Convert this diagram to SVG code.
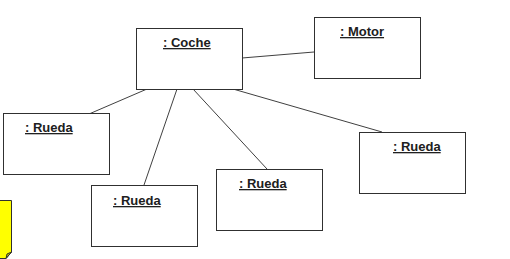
<svg xmlns="http://www.w3.org/2000/svg" width="510" height="259" viewBox="0 0 510 259">
  <style>
    .obj { fill: #ffffff; stroke: #303030; stroke-width: 1; }
    .lbl { font-family: "Liberation Sans", Arial, sans-serif; font-size: 13px; font-weight: bold; fill: #202020; text-decoration: underline; }
    .link { stroke: #404040; stroke-width: 1; fill: none; }
  </style>
  <rect width="510" height="259" fill="#ffffff"/>

  <!-- associations -->
  <g id="connectors">
    <line class="link" x1="242" y1="58" x2="314" y2="52"/>
    <line class="link" x1="147" y1="89" x2="89" y2="114"/>
    <line class="link" x1="177" y1="89" x2="144" y2="185"/>
    <line class="link" x1="193" y1="89" x2="267" y2="169"/>
    <line class="link" x1="233" y1="89" x2="382" y2="132"/>
  </g>

  <g id="coche">
    <rect class="obj" x="136.5" y="28.5" width="106" height="61"/>
    <text class="lbl" x="163" y="47">: Coche</text>
  </g>
  <g id="motor">
    <rect class="obj" x="314.5" y="17.5" width="106" height="61"/>
    <text class="lbl" x="340" y="36">: Motor</text>
  </g>
  <g id="rueda1">
    <rect class="obj" x="3.5" y="113.5" width="106" height="61"/>
    <text class="lbl" x="25" y="132">: Rueda</text>
  </g>
  <g id="rueda2">
    <rect class="obj" x="91.5" y="185.5" width="106" height="61"/>
    <text class="lbl" x="113" y="205">: Rueda</text>
  </g>
  <g id="rueda3">
    <rect class="obj" x="216.5" y="169.5" width="106" height="61"/>
    <text class="lbl" x="239" y="188">: Rueda</text>
  </g>
  <g id="rueda4">
    <rect class="obj" x="359.5" y="132.5" width="106" height="61"/>
    <text class="lbl" x="393" y="151">: Rueda</text>
  </g>

  <!-- note, partly off the left edge -->
  <g id="note">
    <path d="M-2,200.5 H11.5 V252 L6,258.5 H-2 Z" fill="#ffff00" stroke="#303030" stroke-width="1"/>
    <path d="M11.5,252 L6,258.5 L7,254 Z" fill="#c8c800" stroke="#303030" stroke-width="1"/>
  </g>
</svg>
